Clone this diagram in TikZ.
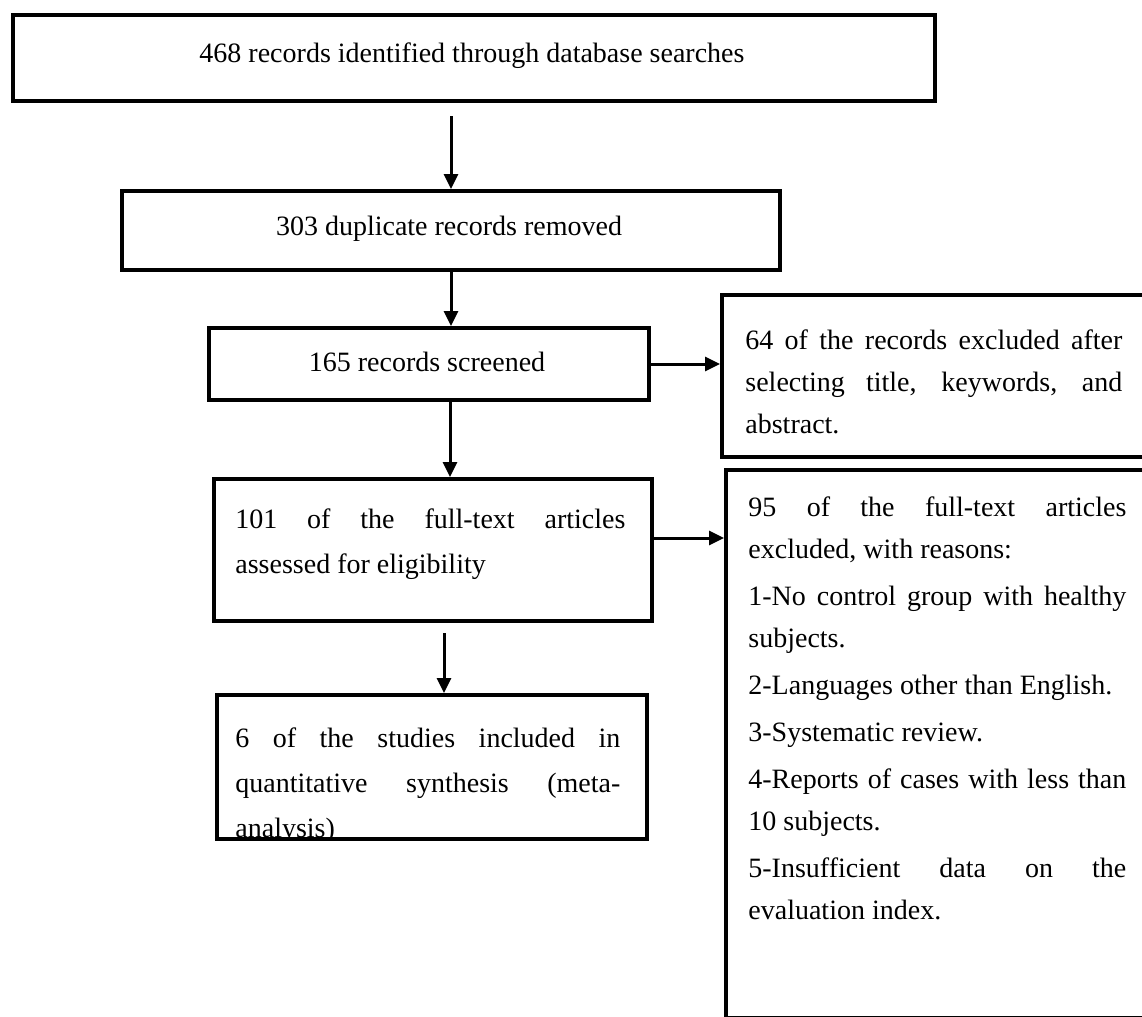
\documentclass[tikz,border=0pt]{standalone}
\usepackage{fontspec}
\setmainfont{Liberation Serif}
\usetikzlibrary{arrows.meta}

\begin{document}
\begin{tikzpicture}[x=0.5pt, y=-0.5pt]
	\tikzset{box/.style={draw, line width=2pt, inner sep=0, anchor=north west}}
	\tikzset{txt/.style={inner sep=0, font=\fontsize{14}{21}\selectfont}}
	\tikzset{para/.style={txt, anchor=north west, align=justify}}
	\tikzset{ar/.style={-{Triangle[length=7.5pt,width=7pt]}, line width=1.5pt}}
	\path[use as bounding box] (0,0) rectangle (1142,1017);
	\clip (0,0) rectangle (1142,1017);
	% boxes
	\node[box, minimum width=461pt, minimum height=43pt] at (11,13) (b1) {};
	\node[box, minimum width=329pt, minimum height=39.5pt] at (120,189) (b2) {};
	\node[box, minimum width=220pt, minimum height=36pt] at (207,326) (b3) {};
	\node[box, minimum width=225pt, minimum height=81pt] at (720,293) (b4) {};
	\node[box, minimum width=219pt, minimum height=71pt] at (212,477) (b5) {};
	\node[box, minimum width=223pt, minimum height=274pt] at (724,468) (b6) {};
	\node[box, minimum width=215pt, minimum height=72pt] at (215,693) (b7) {};
	% texts
	\node[txt] at (472,56) (t1) {468 records identified through database searches};
	\node[txt] at (449,229) (t2) {303 duplicate records removed};
	\node[txt] at (427,362) (t3) {165 records screened};
	\node[para, text width=188.5pt] at (745,329) (t4) {64 of the records excluded after\linebreak
		selecting title, keywords, and\linebreak abstract.};
	\node[para, text width=195pt, font=\fontsize{14}{22.5}\selectfont] at (235,508) (t5) {101 of the full-text articles\linebreak
		assessed for eligibility};
	\node[para, text width=189pt] at (748,496) (t6) {95 of the full-text articles\linebreak
		excluded, with reasons:\\[2.5pt]
		1-No control group with healthy\linebreak subjects.\\[2.5pt]
		2-Languages other than English.\\[2.5pt]
		3-Systematic review.\\[2.5pt]
		4-Reports of cases with less than\linebreak 10 subjects.\\[2.5pt]
		5-Insufficient data on the\linebreak evaluation index.};
	\begin{scope}
		\clip (b7.north west) rectangle ([yshift=1pt]b7.south east);
		\node[para, text width=192.5pt, font=\fontsize{14}{22.5}\selectfont] at (235,727) (t7) {6 of the studies included in\linebreak
			quantitative synthesis (meta-\linebreak analysis)};
	\end{scope}
	% arrows
	\draw[ar, shorten <=6.5pt] (b2.north |- b1.south) -- (b2.north);
	\draw[ar] (b2.south) -- (b2.south |- b3.north);
	\draw[ar] (b3.east) -- (b3.east -| b4.west);
	\draw[ar] ([xshift=10.5pt]b3.south) -- ([xshift=10.5pt]b3.south |- b5.north);
	\draw[ar] ([yshift=6pt]b5.east) -- ([yshift=6pt]b5.east -| b6.west);
	\draw[ar, shorten <=5pt] ([xshift=5.5pt]b5.south) -- ([xshift=5.5pt]b5.south |- b7.north);
\end{tikzpicture}
\end{document}
